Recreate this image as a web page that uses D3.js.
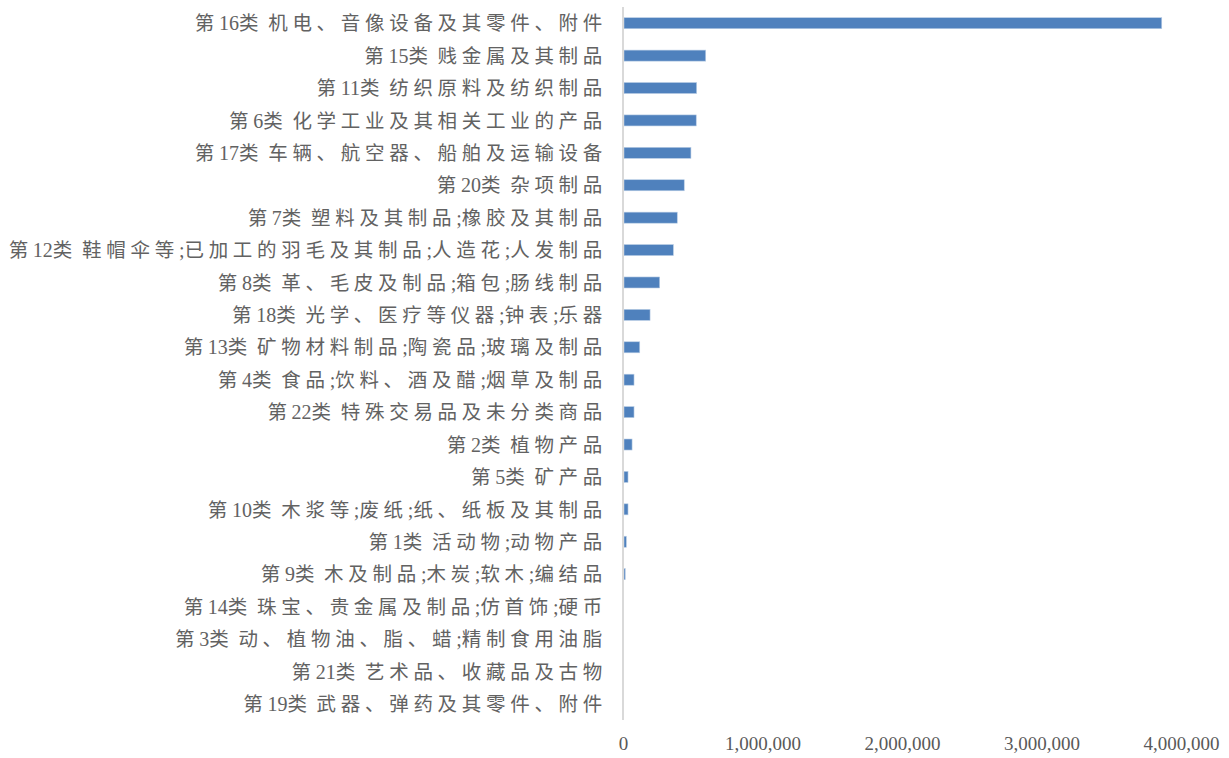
<!DOCTYPE html>
<html>
<head>
<meta charset="utf-8">
<script src="https://cdn.jsdelivr.net/npm/d3@7"></script>
<style>
  html, body { margin: 0; padding: 0; background: #fff; }
  svg { display: block; }
  .cat text { font-family: "Liberation Serif", "Noto Sans CJK SC", serif; font-size: 20px; fill: #626262; }
  .cat tspan.cjk { letter-spacing: 4.7px; font-size: 19.5px; }
  .xaxis text { font-family: "Liberation Serif", serif; font-size: 19px; fill: #595959; }
</style>
</head>
<body>
<svg id="chart" width="1229" height="758"></svg>
<script>
// Categories, top to bottom
const categories = [
  "第16类 机电、音像设备及其零件、附件",
  "第15类 贱金属及其制品",
  "第11类 纺织原料及纺织制品",
  "第6类 化学工业及其相关工业的产品",
  "第17类 车辆、航空器、船舶及运输设备",
  "第20类 杂项制品",
  "第7类 塑料及其制品;橡胶及其制品",
  "第12类 鞋帽伞等;已加工的羽毛及其制品;人造花;人发制品",
  "第8类 革、毛皮及制品;箱包;肠线制品",
  "第18类 光学、医疗等仪器;钟表;乐器",
  "第13类 矿物材料制品;陶瓷品;玻璃及制品",
  "第4类 食品;饮料、酒及醋;烟草及制品",
  "第22类 特殊交易品及未分类商品",
  "第2类 植物产品",
  "第5类 矿产品",
  "第10类 木浆等;废纸;纸、纸板及其制品",
  "第1类 活动物;动物产品",
  "第9类 木及制品;木炭;软木;编结品",
  "第14类 珠宝、贵金属及制品;仿首饰;硬币",
  "第3类 动、植物油、脂、蜡;精制食用油脂",
  "第21类 艺术品、收藏品及古物",
  "第19类 武器、弹药及其零件、附件"
];

// Value for each category
const values = [
  3862000, 593000, 528000, 525000, 487000, 439000, 389000, 361000,
  263000, 194000, 120000, 79000, 79000, 65000, 36000, 36000,
  24000, 16000, 600, 300, 100, 20
];

// Value-axis ticks
const tickValues = [0, 1000000, 2000000, 3000000, 4000000];

const svg = d3.select("#chart");
const plotLeft = 623, plotRight = 1181, plotTop = 7, plotBottom = 720;

const x = d3.scaleLinear().domain([0, 4000000]).range([plotLeft, plotRight]);
const y = d3.scaleBand().domain(categories).range([plotTop, plotBottom]).paddingInner(0.66).paddingOuter(0.33);

// bars
svg.append("g")
  .selectAll("rect")
  .data(values)
  .join("rect")
  .attr("x", x(0) + 1)
  .attr("y", (d, i) => y(categories[i]))
  .attr("width", d => Math.max(0, x(d) - x(0) - 1))
  .attr("height", y.bandwidth())
  .attr("fill", "#4f81bd")
  .attr("stroke", "#b9cde5")
  .attr("stroke-width", 0.6);

// category axis line
svg.append("line")
  .attr("x1", plotLeft).attr("x2", plotLeft)
  .attr("y1", plotTop).attr("y2", plotBottom)
  .attr("stroke", "#d9d9d9")
  .attr("stroke-width", 2);

// category labels: CJK runs are spaced out, Latin runs (digits, ';') are not
const cjkRun = /[\u3000-\u9fff\uff00-\uffef]+|[^\u3000-\u9fff\uff00-\uffef]+/g;
const cat = svg.append("g").attr("class", "cat");
cat.selectAll("text")
  .data(categories)
  .join("text")
  .attr("x", 607)
  .attr("y", d => y(d) + y.bandwidth() / 2)
  .attr("dy", "0.36em")
  .attr("text-anchor", "end")
  .each(function(d) {
    const t = d3.select(this);
    d.match(cjkRun).forEach(run => {
      t.append("tspan")
        .attr("class", /[\u3000-\u9fff\uff00-\uffef]/.test(run) ? "cjk" : "lat")
        .text(run);
    });
  });

// value axis labels
const xa = svg.append("g").attr("class", "xaxis")
  .attr("transform", `translate(0, ${plotBottom})`)
  .call(d3.axisBottom(x).tickValues(tickValues).tickSize(0).tickPadding(17)
    .tickFormat(d3.format(",")));
xa.select(".domain").remove();
xa.selectAll("text").attr("fill", "#595959");
</script>
</body>
</html>
